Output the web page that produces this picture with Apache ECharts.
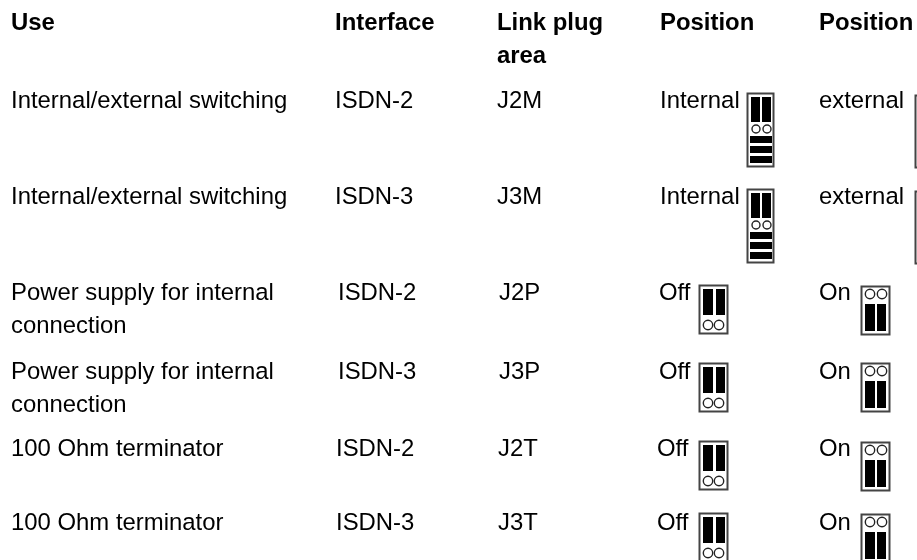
<!DOCTYPE html>
<html><head><meta charset="utf-8">
<style>html,body{margin:0;padding:0;background:#fff}#c{width:917px;height:560px}</style>
<script src="https://cdn.jsdelivr.net/npm/echarts@6/dist/echarts.min.js"></script>
</head><body><div id="c"></div>
<script>
// ---- content ----
const headers = ['Use', 'Interface', 'Link plug\narea', 'Position', 'Position'];
const uses = ['Internal/external switching', 'Internal/external switching', 'Power supply for internal\nconnection', 'Power supply for internal\nconnection', '100 Ohm terminator', '100 Ohm terminator'];
const interfaces = ['ISDN-2', 'ISDN-3', 'ISDN-2', 'ISDN-3', 'ISDN-2', 'ISDN-3'];
const linkAreas = ['J2M', 'J3M', 'J2P', 'J3P', 'J2T', 'J3T'];
const positionA = ['Internal', 'Internal', 'Off', 'Off', 'Off', 'Off'];
const positionB = ['external', 'external', 'On', 'On', 'On', 'On'];
const jumperA = ['internal', 'internal', 'off', 'off', 'off', 'off'];
const jumperB = ['external', 'external', 'on', 'on', 'on', 'on'];

// ---- layout, separate from the content ----
const W = 917, H = 560, FS = 23.9, LH = 33.3;
const columnX = [11, 335, 497, 660, 819];
const headerY = 23.5;
const rowY = [101, 197, 293, 372, 449, 523];
const interfaceX = [335, 335, 338, 338, 336, 336];
const linkX = [497, 497, 499, 499, 498, 498];
const offX = [660, 660, 659, 659, 657, 657];
const iconA = [[747, 93], [747, 189], [699, 285], [699, 363], [699, 441], [699, 513]];
const iconB = [[915, 95], [915, 191], [861, 286], [861, 363], [861, 442], [861, 514]];

const cells = [];
headers.forEach((t, c) => cells.push({ kind: 'text', x: columnX[c], y: headerY, text: t, bold: true }));
uses.forEach((t, r) => {
  cells.push({ kind: 'text', x: columnX[0], y: rowY[r], text: t });
  cells.push({ kind: 'text', x: interfaceX[r], y: rowY[r], text: interfaces[r] });
  cells.push({ kind: 'text', x: linkX[r], y: rowY[r], text: linkAreas[r] });
  cells.push({ kind: 'text', x: offX[r], y: rowY[r], text: positionA[r] });
  cells.push({ kind: 'text', x: columnX[4], y: rowY[r], text: positionB[r] });
  cells.push({ kind: 'icon', x: iconA[r][0], y: iconA[r][1], state: jumperA[r] });
  cells.push({ kind: 'icon', x: iconB[r][0], y: iconB[r][1], state: jumperB[r] });
});

// jumper drawings, in pixels relative to the icon's top-left
const bar = (x, y, w, h) => ({ type: 'rect', shape: { x, y, width: w, height: h }, style: { fill: '#000' } });
const ring = (cx, cy, r) => ({ type: 'circle', shape: { cx, cy, r }, style: { fill: '#fff', stroke: '#222', lineWidth: 1.4 } });
const frame = (w, h) => ({ type: 'rect', shape: { x: 0.5, y: 0.5, width: w, height: h }, style: { fill: '#fff', stroke: '#444', lineWidth: 2 } });
const shapes = {
  internal: [frame(26, 73), bar(4, 4, 9, 25), bar(15, 4, 9, 25), ring(9, 36, 4), ring(20, 36, 4), bar(3, 43, 22, 7), bar(3, 53, 22, 7), bar(3, 63, 22, 7)],
  external: [frame(27, 72)],
  off: [frame(28, 48), bar(4, 4, 10, 26), bar(17, 4, 9, 26), ring(9, 40, 4.7), ring(20, 40, 4.7)],
  on: [frame(28, 48), ring(9, 8, 4.7), ring(21, 8, 4.7), bar(4, 18, 10, 27), bar(16, 18, 9, 27)]
};

const chart = echarts.init(document.getElementById('c'), null, { renderer: 'canvas' });
chart.setOption({
  animation: false,
  backgroundColor: '#fff',
  grid: { left: 0, right: 0, top: 0, bottom: 0 },
  xAxis: { type: 'value', min: 0, max: W, show: false },
  yAxis: { type: 'value', min: 0, max: H, inverse: true, show: false },
  series: [{
    type: 'custom',
    coordinateSystem: 'cartesian2d',
    clip: true,
    silent: true,
    data: cells.map((c, i) => [c.x, c.y, i]),
    renderItem: (params, api) => {
      const c = cells[api.value(2)];
      const p = api.coord([api.value(0), api.value(1)]);
      if (c.kind === 'text') {
        const lines = c.text.split('\n');
        return {
          type: 'group',
          children: lines.map((line, i) => ({
            type: 'text', x: p[0], y: p[1] + i * LH,
            style: {
              text: line, fill: '#000', align: 'left', verticalAlign: 'middle',
              font: (c.bold ? 'bold ' : '') + FS + 'px "Liberation Sans", Arial, sans-serif'
            }
          }))
        };
      }
      return { type: 'group', x: p[0], y: p[1], children: shapes[c.state] };
    }
  }]
});
</script></body></html>
